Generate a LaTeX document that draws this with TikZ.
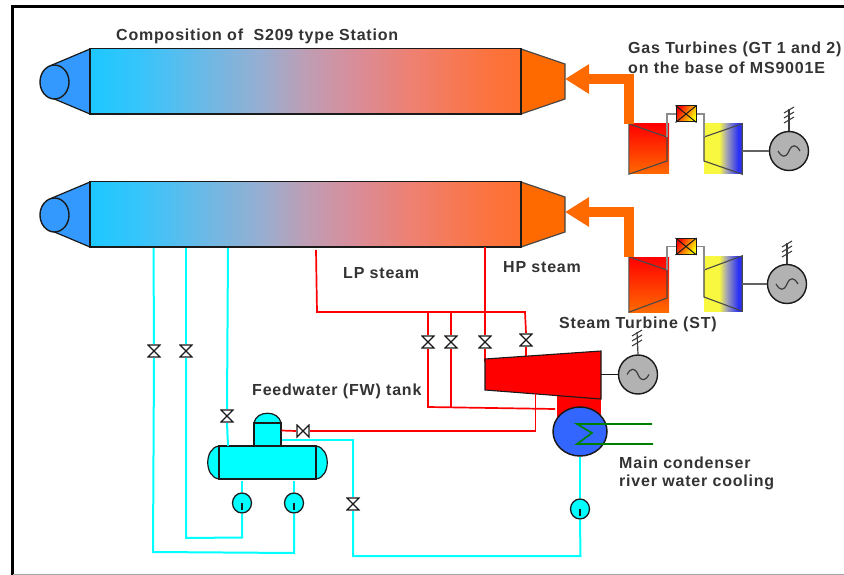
\documentclass[tikz,border=0pt]{standalone}
\usepackage{fontspec}
\setmainfont{Liberation Sans}
\newfontfamily\labfont{Liberation Sans}[LetterSpace=5]
\usetikzlibrary{arrows.meta,calc,shapes.geometric}
\definecolor{txt}{HTML}{333333}
\definecolor{orng}{HTML}{FF6A00}
\definecolor{cone}{HTML}{3399FF}
\definecolor{cyanl}{HTML}{00FFFF}
\definecolor{genfill}{HTML}{B2B2B2}
\definecolor{cond}{HTML}{3366FF}
\definecolor{grn}{HTML}{008000}
\definecolor{edge}{HTML}{1A1A1A}
\definecolor{gl}{HTML}{8C8C8C}
\definecolor{hA}{HTML}{1CC8FF}\definecolor{hB}{HTML}{38C4FA}\definecolor{hC}{HTML}{66BAE8}
\definecolor{hD}{HTML}{98AED0}\definecolor{hE}{HTML}{BE9EB4}\definecolor{hF}{HTML}{DA8C98}
\definecolor{hG}{HTML}{EE8070}\definecolor{hH}{HTML}{FA7545}\definecolor{hI}{HTML}{FF6F2E}
\definecolor{tY}{HTML}{F8F840}\definecolor{tM}{HTML}{A8A8B0}\definecolor{tB}{HTML}{2A30F5}
\pgfdeclarehorizontalshading{hrsgshade}{100bp}{
 color(0bp)=(hA);color(25bp)=(hA);color(31bp)=(hB);color(37.5bp)=(hC);color(45bp)=(hD);color(50bp)=(hE);color(56bp)=(hF);color(62.5bp)=(hG);color(70bp)=(hH);color(75bp)=(hI);color(100bp)=(hI)}
\pgfdeclarehorizontalshading{turbshade}{100bp}{
 color(0bp)=(tY);color(25bp)=(tY);color(45bp)=(tY);color(54bp)=(tM);color(70bp)=(tB);color(75bp)=(tB);color(100bp)=(tB)}
\tikzset{
 lab/.style={font=\labfont\bfseries\fontsize{16}{17.5}\selectfont,text=txt,anchor=west,inner sep=0pt,align=left},
 valve/.style={minimum size=14pt,inner sep=0pt,fill=white,path picture={
   \draw[edge,line width=1.2pt,line join=miter]
     ([shift={(1,1)}]path picture bounding box.north west) -- ([shift={(-1,1)}]path picture bounding box.north east)
     -- ([shift={(1,-1)}]path picture bounding box.south west) -- ([shift={(-1,-1)}]path picture bounding box.south east) -- cycle;}},
 valveh/.style={minimum size=14pt,inner sep=0pt,fill=white,path picture={
   \draw[edge,line width=1.2pt,line join=miter]
     ([shift={(1,1)}]path picture bounding box.north west) -- ([shift={(1,-1)}]path picture bounding box.south west)
     -- ([shift={(-1,1)}]path picture bounding box.north east) -- ([shift={(-1,-1)}]path picture bounding box.south east) -- cycle;}},
 pumpnode/.style={ellipse,draw=edge,line width=1.3pt,fill=cyanl,minimum width=19pt,minimum height=20pt,inner sep=0pt},
 gennode/.style={circle,draw=edge,line width=1.4pt,fill=genfill,minimum size=39pt,inner sep=0pt},
 hrsg/.style={draw=edge,line width=1.3pt,shading=hrsgshade,minimum width=431pt,minimum height=65.5pt,inner sep=0pt},
 cw/.style={cyanl,line width=2pt,line join=miter},
 rd/.style={red,line width=1.7pt,line join=miter},
 gsh/.style={draw=none,inner sep=0pt},
 outl/.style={draw=edge!80,line width=1.1pt,line join=miter},
 gast/.style={orng,line width=10pt,line join=miter,-{Triangle[length=24pt,width=28pt]}},
 shaft/.style={gl,line width=1.3pt},
}
\newcommand{\sinewave}[2]{\draw[edge!85,line width=1.2pt] ([shift={(-11,0)}]#1.center) .. controls ([shift={(-7,7*#2)}]#1.center) and ([shift={(-3,7*#2)}]#1.center) .. (#1.center) .. controls ([shift={(3,-7*#2)}]#1.center) and ([shift={(7,-7*#2)}]#1.center) .. ([shift={(11,0)}]#1.center);}
\newcommand{\hatches}[2]{\foreach \hh in {0,5,10}{\draw[edge!85,line width=1.1pt] ([shift={(-5,#2+3+\hh)}]#1) -- ([shift={(5,#2-3+\hh)}]#1);}}
\begin{document}
\begin{tikzpicture}[x=1pt,y=-1pt]
\useasboundingbox (0,0) rectangle (844,575);
\fill[white] (0,0) rectangle (844,575);
% frame
\coordinate (fTR) at (844,7);\coordinate (fTL) at (12,7);\coordinate (fBL) at (12,575);
\draw[black,line width=3pt] (fTR) -- (fTL) -- (fBL);
\coordinate (fB1) at (13,574);\coordinate (fB2) at (844,574);
\draw[gray!70,line width=1pt] (fB1) -- (fB2);

% HRSG
\foreach \nm/\dy in {A/0,B/133}{
 \fill[cone,draw=edge,line width=1.2pt,line join=miter] (90,49+\dy) -- (52,65+\dy) -- (52,98+\dy) -- (90,114+\dy) -- cycle;
 \node[ellipse,draw=edge,line width=1.4pt,fill=cone,minimum width=29pt,minimum height=34pt,inner sep=0pt] (fan\nm) at (54.5,82+\dy) {};
 \fill[orng,draw=edge!80,line width=1.2pt,line join=miter] (521,49+\dy) -- (565,64+\dy) -- (565,99+\dy) -- (521,114+\dy) -- cycle;
 \node[hrsg] (hrsg\nm) at (305.5,81.3+\dy) {};
}
\coordinate (tipA) at (565,79);\coordinate (tipB) at (565,212);

% GT 1
\node[gsh,shading=axis,top color=red,bottom color=orng,minimum width=40pt,minimum height=50pt] (compA) at (649,149) {};
\node[gsh,shading=turbshade,minimum width=38pt,minimum height=50pt] (turbA) at (723,149) {};
\draw[outl] (compA.north west) -- (667,137) -- (667,161) -- (compA.south west) -- cycle;
\draw[outl] (turbA.north east) -- (704,137) -- (704,161) -- (turbA.south east) -- cycle;
\node[draw=edge,line width=1pt,inner sep=0pt,minimum width=20pt,minimum height=16pt,shading=axis,left color=red,right color=yellow,shading angle=60] (combA) at (686,114) {};
\draw[edge,line width=1pt] (combA.north west) -- (combA.south east) (combA.north east) -- (combA.south west);
\coordinate (cAl) at (667,137);\coordinate (cAr) at (704,137);
\draw[shaft] (cAl) |- (combA.west);
\draw[shaft] (combA.east) -| (cAr);
\node[gennode] (genA) at (789,151) {};
\sinewave{genA}{1}
\draw[shaft,gl!70!black] (turbA.east |- genA.west) -- (genA.west);
\coordinate (antA) at (789,109);
\draw[edge!85,line width=1.2pt] (genA.north) -- (antA);
\hatches{antA}{1}
\draw[gast] (compA.north west) |- (tipA);

% GT 2
\node[gsh,shading=axis,top color=red,bottom color=orng,minimum width=40pt,minimum height=55pt] (compB) at (649,284.5) {};
\node[gsh,shading=turbshade,minimum width=38pt,minimum height=55pt] (turbB) at (723,283.5) {};
\draw[outl] (compB.north west) -- (667,270) -- (667,298) -- (compB.south west) -- cycle;
\draw[outl] (turbB.north east) -- (704,270) -- (704,297) -- (turbB.south east) -- cycle;
\node[draw=edge,line width=1pt,inner sep=0pt,minimum width=20pt,minimum height=16pt,shading=axis,left color=red,right color=yellow,shading angle=60] (combB) at (686,246.5) {};
\draw[edge,line width=1pt] (combB.north west) -- (combB.south east) (combB.north east) -- (combB.south west);
\coordinate (cBl) at (667,270);\coordinate (cBr) at (704,270);
\draw[shaft] (cBl) |- (combB.west);
\draw[shaft] (combB.east) -| (cBr);
\node[gennode] (genB) at (787,284) {};
\sinewave{genB}{1}
\draw[shaft,gl!70!black] (turbB.east |- genB.west) -- (genB.west);
\coordinate (antB) at (787,243);
\draw[edge!85,line width=1.2pt] (genB.north) -- (antB);
\hatches{antB}{1}
\draw[gast] (compB.north west) |- (tipB);

% condenser neck & steam turbine
\coordinate (neckTL) at (557,390);\coordinate (neckBR) at (601,425);
\fill[red] (neckTL) rectangle (neckBR);
\coordinate (st1) at (485,359);\coordinate (st2) at (601,351);\coordinate (st3) at (601,399);\coordinate (st4) at (485,390);

% steam valves
\node[valve] (v1) at (428,342) {};
\node[valve] (v2) at (451,342) {};
\node[valve] (v3) at (485,342) {};
\node[valve] (v4) at (526,340) {};
\coordinate (lpS) at (316,250);
\coordinate (lpC) at (317,312);
\coordinate (lpE) at (525,312);
\coordinate (j1) at (428,312);\coordinate (j2) at (451,312);
\coordinate (hpS) at (485,247);
\coordinate (b1) at (428,407);\coordinate (b2) at (451,407);\coordinate (b3) at (555,409);
\draw[rd] (lpS) -- (lpC) -- (lpE) -- (v4.north);
\draw[rd] (j1) -- (v1.north);
\draw[rd] (j2) -- (v2.north);
\draw[rd] (hpS) -- (v3.north);
\draw[rd] (v1.south) -- (b1) -- (b3);
\draw[rd] (v2.south) -- (b2);
\coordinate (st4b) at (485,362);\coordinate (st1b) at (526,357);
\draw[rd] (v3.south) -- (st4b);
\draw[rd] (v4.south) -- (st1b);
\fill[red,draw=edge,line width=1.1pt,line join=miter] (st1) -- (st2) -- (st3) -- (st4) -- cycle;

% condenser
\node[ellipse,draw=edge,line width=1.5pt,fill=cond,minimum width=54pt,minimum height=49pt,inner sep=0pt] (cnd) at (580,431.5) {};
\coordinate (g1) at (652,424);\coordinate (g2) at (577,424);\coordinate (g3) at (592,433);\coordinate (g4) at (577,444);\coordinate (g5) at (653,444);
\draw[grn,line width=1.7pt,line join=miter] (g1) -- (g2) -- (g3) -- (g4) -- (g5);

% ST generator
\node[gennode] (genS) at (638,374.5) {};
\sinewave{genS}{-1}
\draw[edge,line width=1.2pt] (st2 |- genS.west) -- (genS.west);
\coordinate (antS) at (637,332);
\draw[edge!85,line width=1.2pt] (genS.north) -- (antS);
\hatches{antS}{1}

% FW tank
\fill[cyanl,draw=edge,line width=1.2pt] (219,446) .. controls (204,448) and (204,477) .. (219,479) -- cycle;
\fill[cyanl,draw=edge,line width=1.2pt] (316,446) .. controls (331,448) and (331,477) .. (316,479) -- cycle;
\fill[cyanl,draw=edge,line width=1.2pt] (254,423) .. controls (256,410) and (279,410) .. (281,423) -- cycle;
\node[draw=edge,line width=1.2pt,fill=cyanl,minimum width=27pt,minimum height=23pt,inner sep=0pt] (drum) at (267.5,434.5) {};
\node[draw=edge,line width=1.4pt,fill=cyanl,minimum width=97pt,minimum height=33pt,inner sep=0pt] (tank) at (267.5,462.5) {};

% valves/pumps on water lines
\node[valve] (v5) at (154,351) {};
\node[valve] (v6) at (186,351) {};
\node[valve] (v7) at (227,416) {};
\node[valve] (v8) at (353,504) {};
\node[valveh] (v9) at (303,431) {};
\node[pumpnode] (p1) at (242,503) {};
\node[pumpnode] (p2) at (294,503) {};
\node[pumpnode] (p3) at (580,509) {};
\foreach \p in {p1,p2,p3}{\draw[edge,line width=1.5pt] (\p.center) -- ([yshift=-7pt]\p.center);}

% water lines
\coordinate (wA) at (153.5,248);\coordinate (wB) at (186,248);\coordinate (wC) at (228,248);
\coordinate (wA2) at (153,552);\coordinate (wB2) at (186,538);
\coordinate (p1d) at (242,537.5);\coordinate (p2d) at (294,553);
\coordinate (t1) at (242,481);\coordinate (t2) at (294,481);
\coordinate (wC2) at (228,446);
\draw[cw] (wA) -- (v5.north);
\draw[cw] (v5.south) -- (wA2) -- (p2d) -- (p2.south);
\draw[cw] (wB) -- (v6.north);
\draw[cw] (v6.south) -- (wB2) -- (p1d) -- (p1.south);
\draw[cw] (p1.north) -- (t1);
\draw[cw] (p2.north) -- (t2);
\draw[cw] (wC) -- (v7.north);
\draw[cw] (v7.south) -- (wC2);
\coordinate (d1) at (281.5,440);\coordinate (d2) at (353,440);
\coordinate (d3) at (353,556);\coordinate (d4) at (580.5,556);
\draw[cw] (d1) -- (d2) -- (v8.north);
\draw[cw] (v8.south) -- (d3) -- (d4) -- (p3.south);
\draw[cw] (p3.north) -- (cnd.south);
% red feed
\coordinate (r1) at (535.5,393.5);\coordinate (r2) at (535.5,431);\coordinate (r3) at (281.5,430.5);
\draw[rd] (r1) -- (r2) -- (v9.east);
\draw[rd] (v9.west) -- (r3);

% labels
\node[lab] (l1) at (116,36) {Composition of\ \ S209 type Station};
\node[lab] (l2) at (628,57.5) {Gas Turbines (GT 1 and 2)\\[2.5pt]on the base of MS9001E};
\node[lab] (l3) at (343,273) {LP steam};
\node[lab] (l4) at (503,267) {HP steam};
\node[lab] (l5) at (559,324) {Steam Turbine (ST)};
\node[lab] (l6) at (252,391) {Feedwater (FW) tank};
\node[lab] (l7) at (619,473.5) {Main condenser\\river water cooling};
\end{tikzpicture}
\end{document}
